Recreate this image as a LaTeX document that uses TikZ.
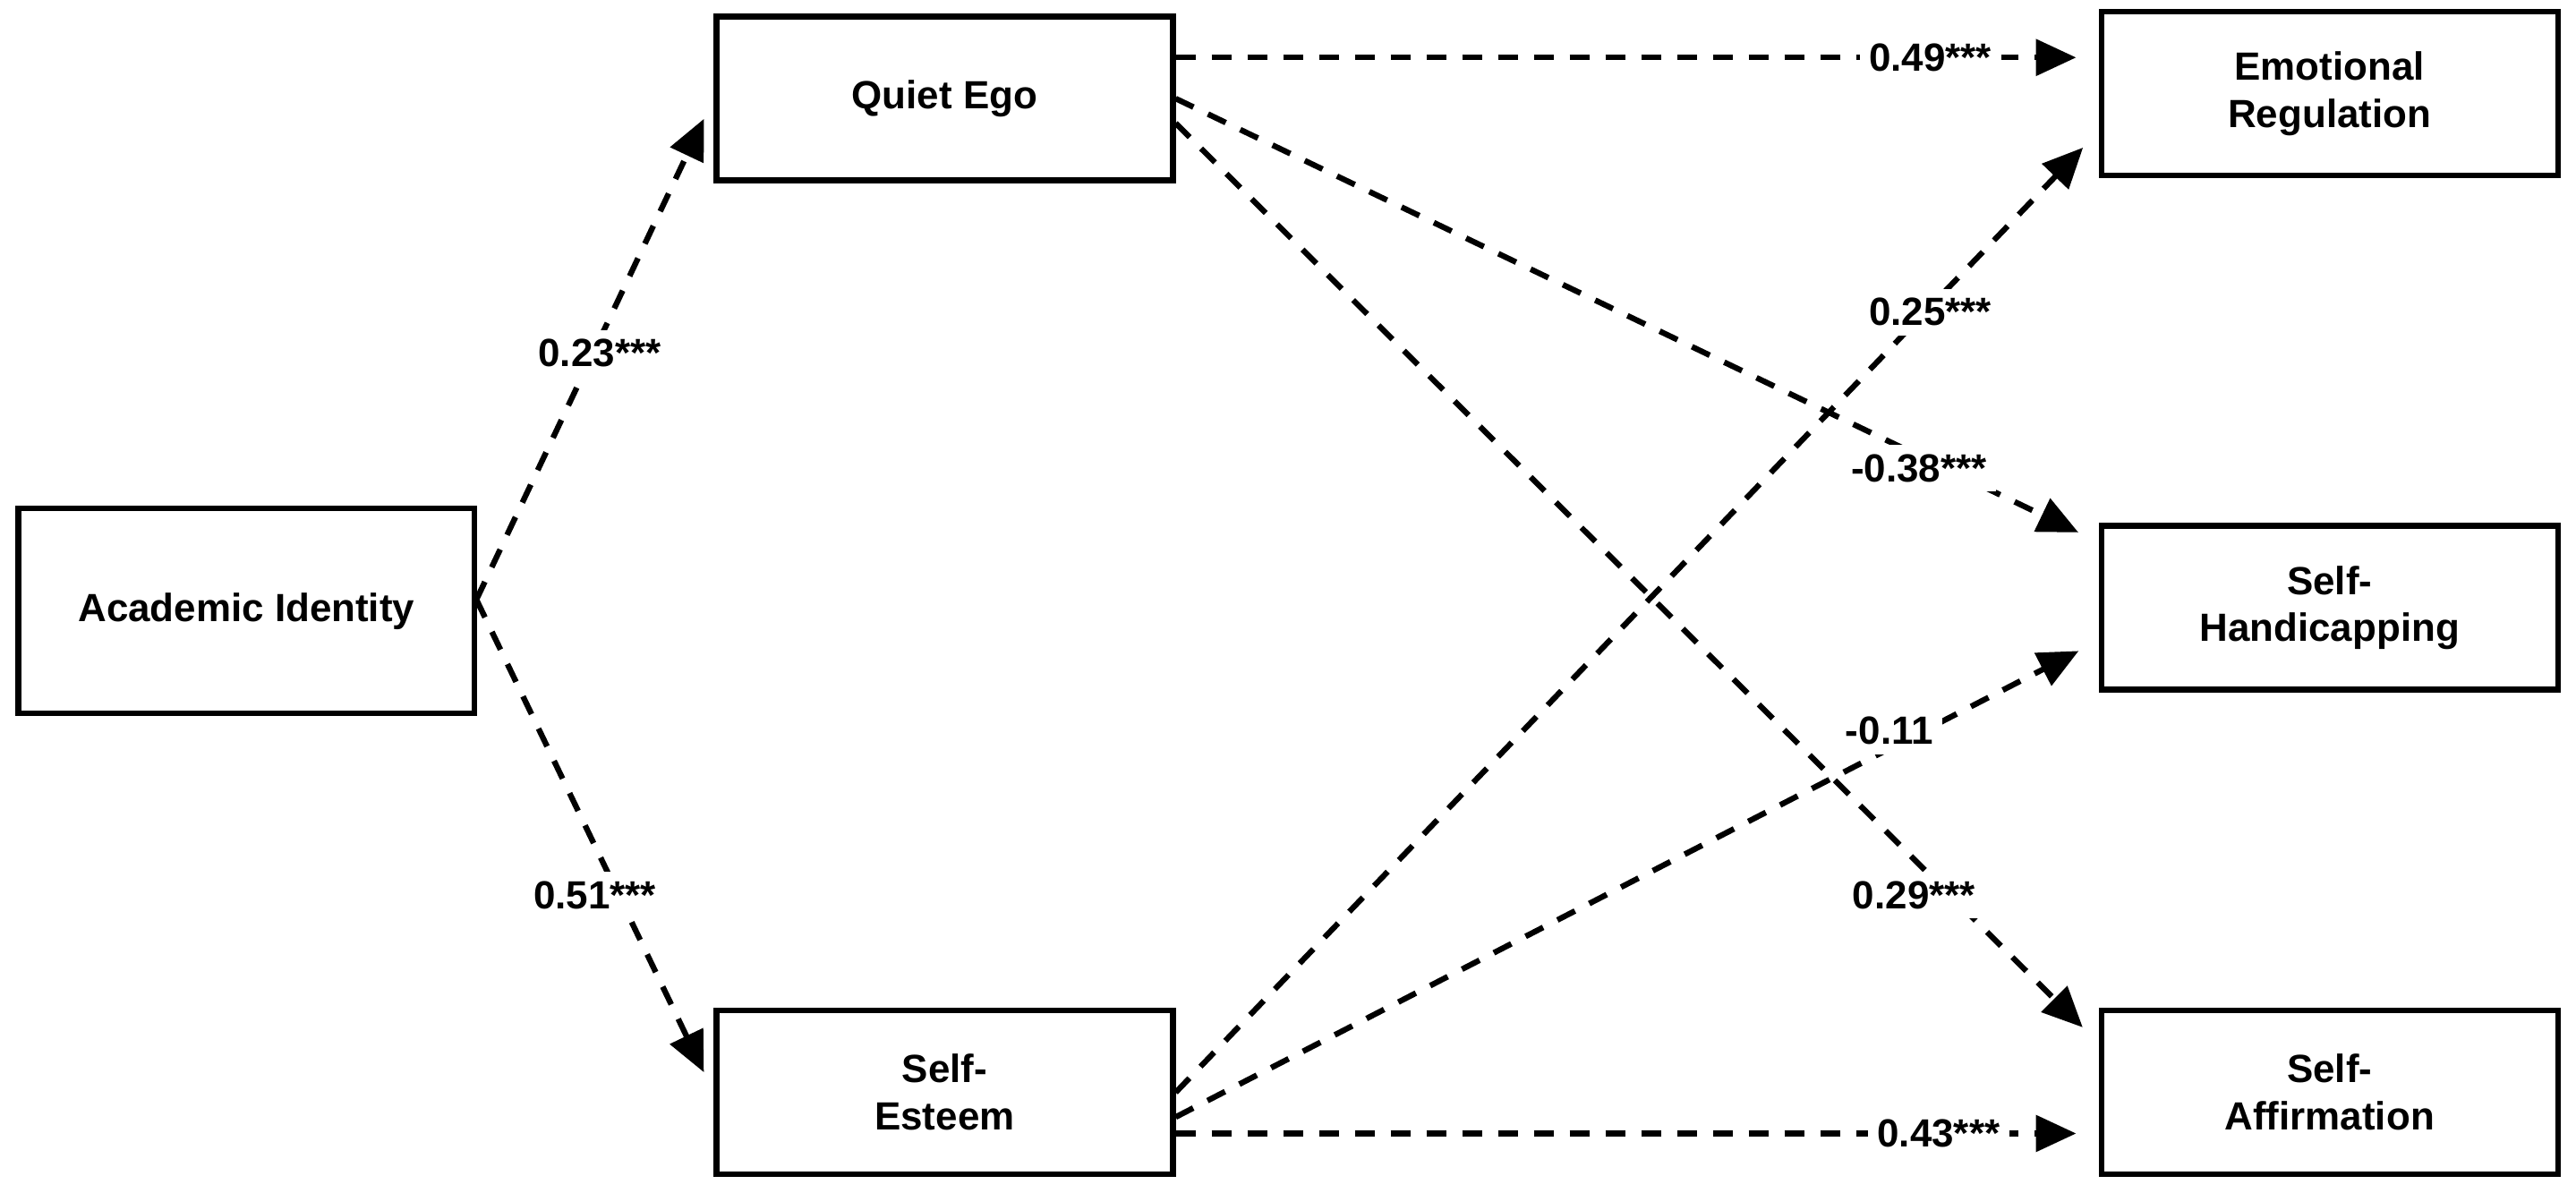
\documentclass[tikz,border=0pt]{standalone}
\usepackage{fontspec}
\setmainfont{Liberation Sans}
\usetikzlibrary{arrows.meta}
\tikzset{
  var/.style={draw, line width=1.8pt, minimum width=5.1cm, minimum height=1.83cm, align=center, font=\fontsize{12.5}{15}\selectfont\bfseries},
  path/.style={line width=1.8pt, dash pattern=on 2.2mm off 1.8mm, -{Triangle[length=4.5mm, width=4mm]}, shorten >=2.5mm},
  coef/.style={fill=white, inner sep=3pt, font=\fontsize{12.5}{15}\selectfont\bfseries}
}
\begin{document}
\begin{tikzpicture}[x=0.01835cm, y=-0.01835cm]
	\useasboundingbox (0,0) rectangle (1568,726);
	\node[var, minimum height=2.29cm] (acad) at (150,372) {Academic Identity};
	\node[var] (quiet) at (575,60) {Quiet Ego};
	\node[var] (esteem) at (575,665) {Self-\\Esteem};
	\node[var] (emot) at (1418,57) {Emotional\\Regulation};
	\node[var] (handi) at (1418,370) {Self-\\Handicapping};
	\node[var] (affirm) at (1418,665) {Self-\\Affirmation};
	\coordinate (acadOut) at (290,365);
	% paths
	\draw[path] (acadOut) -- (quiet.west |- 0,60);
	\draw[path] (acadOut) -- (esteem.west);
	\draw[path] (quiet.east |- 0,35) -- (emot.west |- 0,35);
	\draw[path] (quiet.east) -- (handi.west |- 0,330);
	\draw[path] (quiet.east |- 0,75) -- (affirm.west |- 0,635);
	\draw[path] (esteem.east |- 0,665) -- (emot.west |- 0,80);
	\draw[path] (esteem.east |- 0,680) -- (handi.west |- 0,390);
	\draw[path] (esteem.east |- 0,690) -- (affirm.west |- 0,690);
	% coefficients
	\node[coef] (c1) at (365,215) {0.23***};
	\node[coef] (c2) at (362,545) {0.51***};
	\node[coef] (c3) at (1175,35) {0.49***};
	\node[coef] (c4) at (1175,190) {0.25***};
	\node[coef] (c5) at (1168,285) {-0.38***};
	\node[coef] (c6) at (1150,445) {-0.11};
	\node[coef] (c7) at (1165,545) {0.29***};
	\node[coef] (c8) at (1180,690) {0.43***};
\end{tikzpicture}
\end{document}
